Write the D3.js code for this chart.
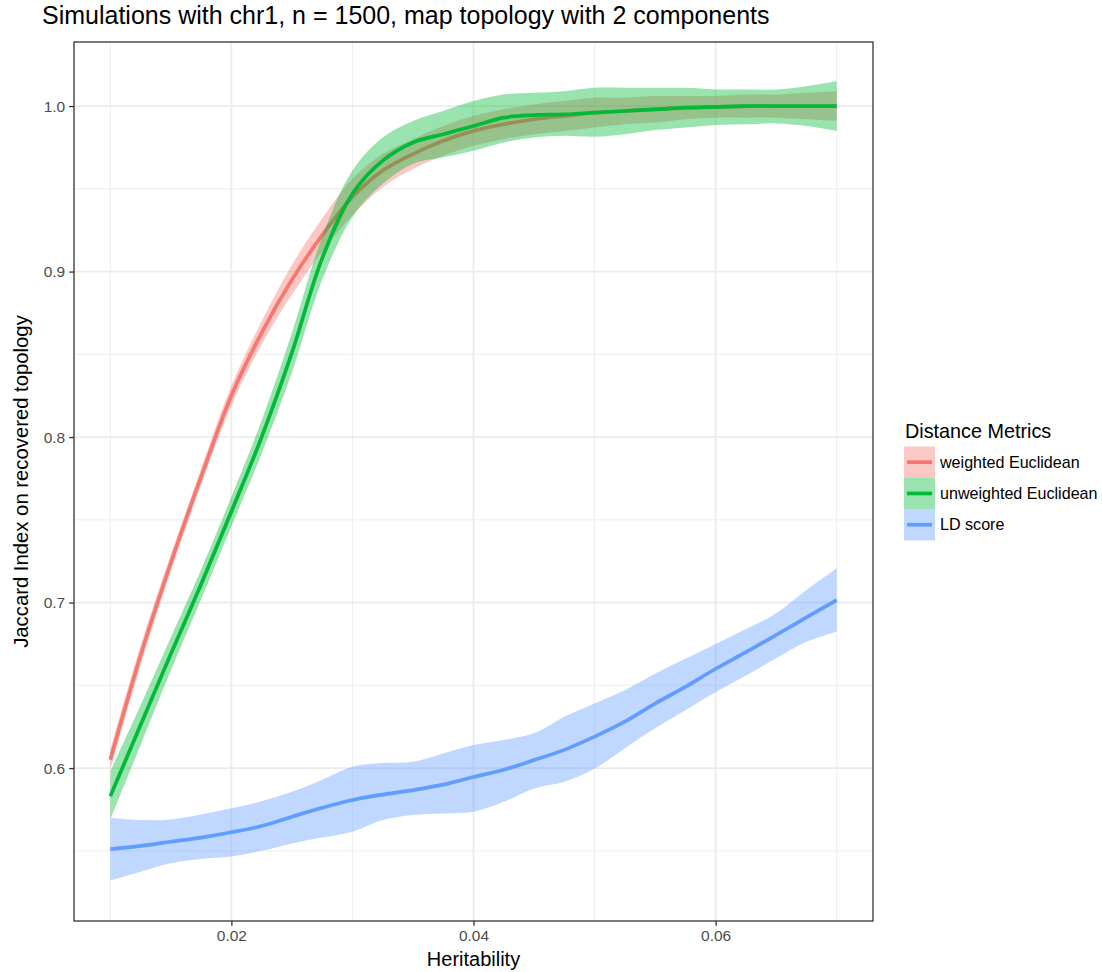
<!DOCTYPE html>
<html>
<head>
<meta charset="utf-8">
<script src="https://cdn.jsdelivr.net/npm/d3@7/dist/d3.min.js"></script>
<style>
  html, body { margin: 0; padding: 0; background: #fff; }
  svg { display: block; font-family: "Liberation Sans", Arial, Helvetica, sans-serif; }
</style>
</head>
<body>
<svg id="chart" width="1102" height="972"></svg>
<script>
// ---------------- data ----------------
const heritability = [0.01, 0.0125, 0.015, 0.0175, 0.02, 0.0225, 0.025, 0.0275, 0.03, 0.0325, 0.035, 0.0375, 0.04,
  0.0425, 0.045, 0.0475, 0.05, 0.0525, 0.055, 0.0575, 0.06, 0.0625, 0.065, 0.0675, 0.07];

const seriesNames = ["weighted Euclidean", "unweighted Euclidean", "LD score"];

const weightedFit   = [0.605, 0.668, 0.724, 0.776, 0.825, 0.863, 0.895, 0.922, 0.945, 0.961, 0.971, 0.979, 0.985,
  0.989, 0.992, 0.994, 0.996, 0.997, 0.998, 0.999, 0.9995, 1.0, 1.0, 1.0, 1.0];
const weightedLower = [0.599, 0.662, 0.719, 0.771, 0.819, 0.856, 0.886, 0.912, 0.934, 0.951, 0.962, 0.970, 0.976,
  0.980, 0.983, 0.985, 0.987, 0.989, 0.990, 0.992, 0.993, 0.993, 0.993, 0.992, 0.991];
const weightedUpper = [0.611, 0.674, 0.729, 0.781, 0.831, 0.870, 0.904, 0.932, 0.956, 0.971, 0.980, 0.988, 0.994,
  0.998, 1.001, 1.003, 1.005, 1.005, 1.006, 1.006, 1.006, 1.007, 1.007, 1.008, 1.009];

const unweightedFit   = [0.583, 0.626, 0.669, 0.711, 0.755, 0.800, 0.851, 0.908, 0.947, 0.967, 0.978, 0.983, 0.988,
  0.993, 0.9945, 0.995, 0.996, 0.997, 0.998, 0.999, 0.9995, 1.0, 1.0, 1.0, 1.0];
const unweightedLower = [0.569, 0.614, 0.659, 0.702, 0.746, 0.790, 0.839, 0.895, 0.933, 0.953, 0.965, 0.969, 0.973,
  0.978, 0.981, 0.982, 0.9815, 0.983, 0.9855, 0.987, 0.9885, 0.989, 0.9895, 0.988, 0.985];
const unweightedUpper = [0.598, 0.638, 0.679, 0.720, 0.764, 0.810, 0.863, 0.921, 0.961, 0.981, 0.991, 0.997, 1.003,
  1.007, 1.008, 1.009, 1.011, 1.011, 1.011, 1.011, 1.010, 1.010, 1.010, 1.012, 1.015];

const ldFit   = [0.551, 0.553, 0.5555, 0.558, 0.5612, 0.565, 0.5706, 0.576, 0.5807, 0.584, 0.5867, 0.590, 0.5946,
  0.599, 0.6048, 0.611, 0.619, 0.628, 0.639, 0.649, 0.660, 0.670, 0.6804, 0.691, 0.7015];
const ldLower = [0.532, 0.5373, 0.5425, 0.545, 0.5465, 0.550, 0.5545, 0.558, 0.5615, 0.5686, 0.5716, 0.5726, 0.5736,
  0.5796, 0.5877, 0.5917, 0.5997, 0.612, 0.624, 0.635, 0.646, 0.656, 0.6663, 0.6763, 0.6824];
const ldUpper = [0.570, 0.5686, 0.569, 0.572, 0.5757, 0.580, 0.5857, 0.593, 0.6008, 0.603, 0.6038, 0.6088, 0.6139,
  0.617, 0.621, 0.631, 0.639, 0.647, 0.657, 0.666, 0.675, 0.684, 0.6935, 0.7076, 0.7207];

const xMajorTicks = [0.02, 0.04, 0.06];
const xMinorTicks = [0.01, 0.03, 0.05, 0.07];
const yMajorTicks = [0.6, 0.7, 0.8, 0.9, 1.0];
const yMinorTicks = [0.55, 0.65, 0.75, 0.85, 0.95];

const titleText = "Simulations with chr1, n = 1500, map topology with 2 components";
const xTitle = "Heritability";
const yTitle = "Jaccard Index on recovered topology";
const legendTitle = "Distance Metrics";

// ---------------- layout ----------------
const colors = ["#F8766D", "#00BA38", "#619CFF"];
const panel = { left: 74, right: 873, top: 42, bottom: 921 };

const x = d3.scaleLinear().domain([0.007, 0.073]).range([panel.left, panel.right]);
const y = d3.scaleLinear().domain([0.5076, 1.0387]).range([panel.bottom, panel.top]);

const svg = d3.select("#chart");

svg.append("rect").attr("x", panel.left).attr("y", panel.top)
  .attr("width", panel.right - panel.left).attr("height", panel.bottom - panel.top)
  .attr("fill", "#fff");

const grid = svg.append("g");
grid.selectAll(".xmin").data(xMinorTicks).enter().append("line")
  .attr("x1", d => x(d)).attr("x2", d => x(d)).attr("y1", panel.top).attr("y2", panel.bottom)
  .attr("stroke", "#EBEBEB").attr("stroke-width", 0.9);
grid.selectAll(".ymin").data(yMinorTicks).enter().append("line")
  .attr("y1", d => y(d)).attr("y2", d => y(d)).attr("x1", panel.left).attr("x2", panel.right)
  .attr("stroke", "#EBEBEB").attr("stroke-width", 0.9);
grid.selectAll(".xmaj").data(xMajorTicks).enter().append("line")
  .attr("x1", d => x(d)).attr("x2", d => x(d)).attr("y1", panel.top).attr("y2", panel.bottom)
  .attr("stroke", "#EBEBEB").attr("stroke-width", 1.8);
grid.selectAll(".ymaj").data(yMajorTicks).enter().append("line")
  .attr("y1", d => y(d)).attr("y2", d => y(d)).attr("x1", panel.left).attr("x2", panel.right)
  .attr("stroke", "#EBEBEB").attr("stroke-width", 1.8);

svg.append("clipPath").attr("id", "clip").append("rect")
  .attr("x", panel.left).attr("y", panel.top)
  .attr("width", panel.right - panel.left).attr("height", panel.bottom - panel.top);

const series = [
  { name: seriesNames[0], fit: weightedFit, lo: weightedLower, hi: weightedUpper, color: colors[0] },
  { name: seriesNames[1], fit: unweightedFit, lo: unweightedLower, hi: unweightedUpper, color: colors[1] },
  { name: seriesNames[2], fit: ldFit, lo: ldLower, hi: ldUpper, color: colors[2] }
];

const curve = d3.curveCatmullRom.alpha(0.5);
const area = d3.area().curve(curve)
  .x(d => x(d.h)).y0(d => y(d.lo)).y1(d => y(d.hi));
const line = d3.line().curve(curve)
  .x(d => x(d.h)).y(d => y(d.v));

const marks = svg.append("g").attr("clip-path", "url(#clip)");
series.forEach(s => {
  const pts = heritability.map((h, i) => ({ h, v: s.fit[i], lo: s.lo[i], hi: s.hi[i] }));
  marks.append("path").datum(pts).attr("d", area)
    .attr("fill", s.color).attr("fill-opacity", 0.4).attr("stroke", "none");
  marks.append("path").datum(pts).attr("d", line)
    .attr("fill", "none").attr("stroke", s.color).attr("stroke-width", 3.7);
});

svg.append("rect").attr("x", panel.left).attr("y", panel.top)
  .attr("width", panel.right - panel.left).attr("height", panel.bottom - panel.top)
  .attr("fill", "none").attr("stroke", "#333333").attr("stroke-width", 1.3);

const xAxis = d3.axisBottom(x).tickValues(xMajorTicks).tickFormat(d3.format(".2f"))
  .tickSizeInner(4.8).tickSizeOuter(0).tickPadding(4);
const gx = svg.append("g").attr("transform", `translate(0,${panel.bottom})`).call(xAxis);
gx.select(".domain").remove();
gx.selectAll(".tick line").attr("stroke", "#333333").attr("stroke-width", 1.3);
gx.selectAll(".tick text").attr("fill", "#4D4D4D").attr("font-size", 15.5)
  .attr("font-family", "Liberation Sans, Arial, sans-serif");

const yAxis = d3.axisLeft(y).tickValues(yMajorTicks).tickFormat(d3.format(".1f"))
  .tickSizeInner(4.8).tickSizeOuter(0).tickPadding(4);
const gy = svg.append("g").attr("transform", `translate(${panel.left},0)`).call(yAxis);
gy.select(".domain").remove();
gy.selectAll(".tick line").attr("stroke", "#333333").attr("stroke-width", 1.3);
gy.selectAll(".tick text").attr("fill", "#4D4D4D").attr("font-size", 15.5)
  .attr("font-family", "Liberation Sans, Arial, sans-serif");

svg.append("text").attr("x", 42).attr("y", 24).attr("font-size", 25).attr("fill", "#000")
  .text(titleText);
svg.append("text").attr("x", (panel.left + panel.right) / 2).attr("y", 966)
  .attr("text-anchor", "middle").attr("font-size", 20).attr("fill", "#000").text(xTitle);
svg.append("text").attr("transform", `translate(27.5,${(panel.top + panel.bottom) / 2}) rotate(-90)`)
  .attr("text-anchor", "middle").attr("font-size", 20.3).attr("fill", "#000").text(yTitle);

const legend = svg.append("g");
legend.append("text").attr("x", 905).attr("y", 438).attr("font-size", 19.8).attr("fill", "#000").text(legendTitle);
const keyH = 31.3, keyTop = 446.5, keyX = 904, keyW = 31;
series.forEach((s, i) => {
  const ky = keyTop + i * keyH;
  legend.append("rect").attr("x", keyX).attr("y", ky).attr("width", keyW).attr("height", keyH)
    .attr("fill", s.color).attr("fill-opacity", 0.4);
  legend.append("line").attr("x1", keyX + 3).attr("x2", keyX + keyW - 3)
    .attr("y1", ky + keyH / 2).attr("y2", ky + keyH / 2)
    .attr("stroke", s.color).attr("stroke-width", 3.7);
  legend.append("text").attr("x", 940).attr("y", ky + keyH / 2 + 5.5)
    .attr("font-size", 16.1).attr("fill", "#000").text(s.name);
});
</script>
</body>
</html>
